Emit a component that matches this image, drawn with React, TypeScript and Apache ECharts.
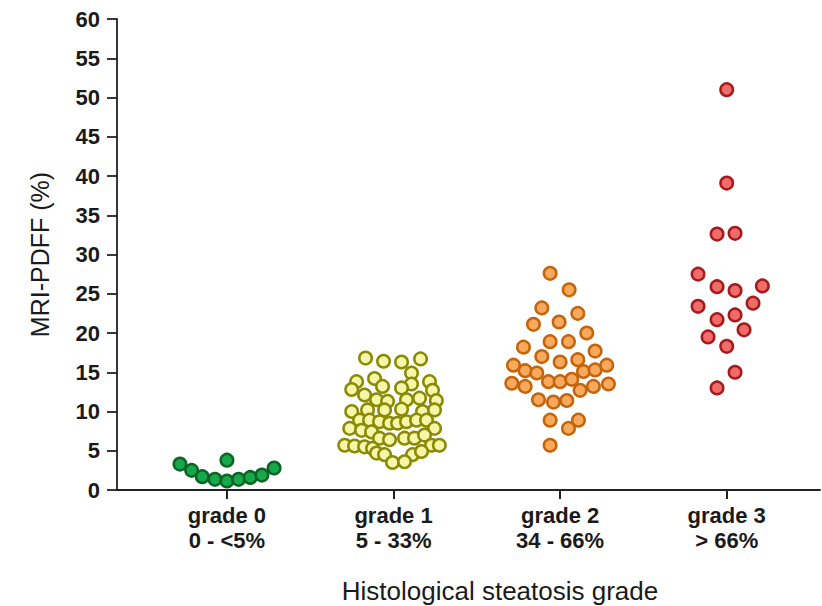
import React, { useEffect, useRef } from "react";
import * as echarts from "echarts";

const categoryLabels = ["grade 0\n0 - <5%", "grade 1\n5 - 33%", "grade 2\n34 - 66%", "grade 3\n> 66%"];
const yTicks = { min: 0, max: 60, interval: 5 };
const xTitle = "Histological steatosis grade";
const yTitle = "MRI-PDFF (%)";

const grade0Values = [3.3, 2.5, 1.7, 1.36, 1.15, 1.36, 1.6, 1.9, 2.8, 3.8];
const grade0Offsets = [-0.282, -0.212, -0.148, -0.072, 0, 0.07, 0.14, 0.21, 0.283, 0];

const grade1Values = [
  16.8, 16.4, 16.3, 16.7, 14.9, 14.2, 13.8, 13.8, 13.5, 13.2, 13.0, 12.7, 12.8, 12.1,
  11.5, 11.3, 11.5, 11.7, 11.4, 10.0, 10.2, 10.2, 10.3, 10.0, 10.2, 8.9, 8.9, 8.7, 8.5,
  8.5, 8.7, 8.9, 8.9, 7.85, 7.6, 7.4, 7.85, 6.6, 6.4, 6.6, 6.6, 7.0, 5.7, 5.6, 5.5, 5.3,
  5.7, 5.7, 4.7, 4.5, 4.5, 4.9, 3.5, 3.6,
];
const grade1Offsets = [
  -0.168, -0.06, 0.048, 0.162, 0.108, -0.114, -0.222, 0.216, 0.108, -0.066, 0.048, 0.234, -0.251, -0.174,
  -0.102, -0.036, 0.078, 0.156, 0.257, -0.251, -0.156, -0.054, 0.048, 0.174, 0.246, -0.204, -0.144, -0.084, -0.024,
  0.024, 0.078, 0.138, 0.198, -0.263, -0.192, -0.132, 0.246, -0.084, -0.024, 0.066, 0.126, 0.186, -0.293, -0.234, -0.174, -0.126,
  0.228, 0.275, -0.102, -0.054, 0.114, 0.168, -0.006, 0.066,
];

const grade2Values = [
  27.6, 25.5, 23.2, 22.5, 21.1, 21.4, 20.0, 18.9, 18.9, 18.2, 17.7, 17.0, 16.3, 16.6, 15.9,
  15.2, 14.9, 15.1, 15.3, 15.9, 13.6, 13.2, 13.8, 13.8, 14.1, 12.7, 13.2, 13.5, 11.5, 11.2,
  11.4, 8.9, 8.9, 7.85, 5.7,
];
const grade2Offsets = [
  -0.06, 0.054, -0.11, 0.106, -0.16, -0.006, 0.16, -0.06, 0.05, -0.22, 0.21, -0.11, 0, 0.106, -0.28,
  -0.21, -0.14, 0.14, 0.21, 0.28, -0.29, -0.21, -0.07, 0, 0.07, 0.12, 0.2, 0.29, -0.13, -0.04,
  0.04, -0.06, 0.11, 0.05, -0.06,
];

const grade3Values = [51.0, 39.1, 32.6, 32.7, 27.5, 25.9, 25.4, 26.0, 23.4, 23.8, 21.7, 22.3, 19.5, 20.4, 18.3, 15.0, 13.0];
const grade3Offsets = [0, 0, -0.058, 0.05, -0.172, -0.058, 0.05, 0.214, -0.172, 0.158, -0.058, 0.05, -0.112, 0.104, 0, 0.05, -0.058];

const groups = [
  { values: grade0Values, offsets: grade0Offsets, fill: "#18a84c", border: "#0a6424" },
  { values: grade1Values, offsets: grade1Offsets, fill: "#f5f6a8", border: "#8a8a05" },
  { values: grade2Values, offsets: grade2Offsets, fill: "#f8a95c", border: "#c4640c" },
  { values: grade3Values, offsets: grade3Offsets, fill: "#f26b6b", border: "#a51b1b" },
];

export default function App() {
  const ref = useRef<HTMLDivElement>(null);
  useEffect(() => {
    if (!ref.current) return;
    const chart = echarts.init(ref.current, undefined, { renderer: "svg" });
    const font = "Liberation Sans, Arial, sans-serif";
    chart.setOption({
      animation: false,
      backgroundColor: "#ffffff",
      grid: { left: 117, right: 2, top: 19, bottom: 116, containLabel: false },
      graphic: [
        {
          type: "text",
          x: 500,
          y: 591,
          style: {
            text: xTitle,
            fontFamily: font,
            fontSize: 26,
            fill: "#1a1a1a",
            align: "center",
            verticalAlign: "middle",
          },
        },
      ],
      xAxis: {
        type: "value",
        min: -0.66,
        max: 3.56,
        axisLine: { show: true, onZero: false, lineStyle: { color: "#222", width: 1.8 } },
        axisTick: { show: true, inside: false, length: 9, customValues: [0, 1, 2, 3], lineStyle: { color: "#222", width: 2 } },
        axisLabel: {
          customValues: [0, 1, 2, 3],
          formatter: (v: number) => categoryLabels[Math.round(v)] ?? "",
          fontFamily: font,
          fontSize: 22,
          fontWeight: "bold",
          color: "#1a1a1a",
          lineHeight: 25,
          margin: 13,
        },
        splitLine: { show: false },
      },
      yAxis: {
        type: "value",
        min: yTicks.min,
        max: yTicks.max,
        interval: yTicks.interval,
        name: yTitle,
        nameLocation: "middle",
        nameGap: 65,
        nameRotate: 90,
        nameTextStyle: { fontFamily: font, fontSize: 25, color: "#1a1a1a" },
        axisLine: { show: true, onZero: false, lineStyle: { color: "#222", width: 1.8 } },
        axisTick: { show: true, inside: false, length: 10, lineStyle: { color: "#222", width: 1.8 } },
        axisLabel: { fontFamily: font, fontSize: 22, fontWeight: "bold", color: "#1a1a1a", margin: 17 },
        splitLine: { show: false },
      },
      series: groups.map((g, gi) => ({
        type: "scatter",
        symbol: "circle",
        symbolSize: 12.5,
        data: g.values.map((v, i) => [gi + g.offsets[i], v]),
        itemStyle: { color: g.fill, borderColor: g.border, borderWidth: 2.5, opacity: 1 },
      })),
    });
    return () => chart.dispose();
  }, []);
  return <div ref={ref} style={{ width: 822, height: 606, position: "absolute", left: 0, top: 0 }} />;
}
